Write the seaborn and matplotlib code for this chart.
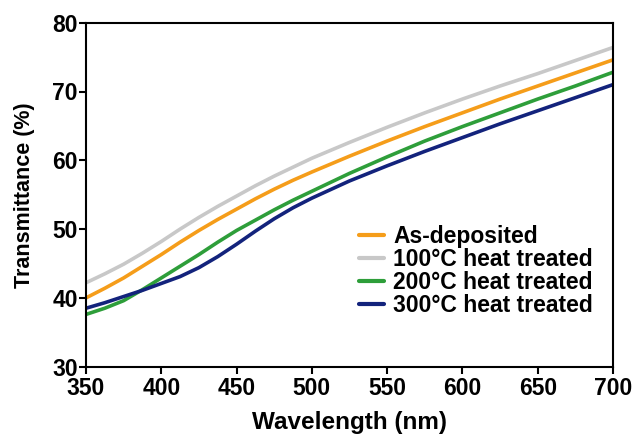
import numpy as np
import pandas as pd
import matplotlib
matplotlib.use("Agg")
import matplotlib.pyplot as plt
import seaborn as sns

wavelength = [350, 362.5, 375, 387.5, 400, 412.5, 425, 437.5, 450, 462.5, 475, 487.5, 500,
              525, 550, 575, 600, 625, 650, 675, 700]

as_deposited = [40.0, 41.4, 42.9, 44.6, 46.3, 48.1, 49.8, 51.4, 52.9, 54.4, 55.8, 57.1, 58.3,
                60.6, 62.8, 64.9, 66.9, 68.9, 70.8, 72.7, 74.6]
heat_100 = [42.2, 43.5, 44.9, 46.5, 48.2, 50.0, 51.7, 53.3, 54.8, 56.3, 57.7, 59.0, 60.3,
            62.6, 64.8, 66.9, 68.9, 70.8, 72.6, 74.5, 76.4]
heat_200 = [37.6, 38.5, 39.6, 41.2, 42.9, 44.6, 46.3, 48.1, 49.8, 51.3, 52.8, 54.2, 55.5,
            58.1, 60.5, 62.8, 64.9, 66.9, 68.9, 70.8, 72.8]
heat_300 = [38.5, 39.3, 40.2, 41.1, 42.1, 43.1, 44.4, 46.0, 47.8, 49.7, 51.5, 53.1, 54.5,
            57.0, 59.2, 61.3, 63.3, 65.3, 67.2, 69.1, 71.0]

labels = ["As-deposited", "100°C heat treated", "200°C heat treated", "300°C heat treated"]
colors = ["#F59D1A", "#C8C8C8", "#2E9E3A", "#13237C"]

df = pd.concat([
    pd.DataFrame({"Wavelength": wavelength, "T": vals, "Sample": lab})
    for vals, lab in zip([as_deposited, heat_100, heat_200, heat_300], labels)
])

sns.set_style("ticks")
plt.rcParams["font.family"] = ["Liberation Sans", "DejaVu Sans"]
plt.rcParams["font.weight"] = "bold"
plt.rcParams["text.color"] = "black"
plt.rcParams["axes.labelcolor"] = "black"
plt.rcParams["xtick.color"] = "black"
plt.rcParams["ytick.color"] = "black"

fig = plt.figure(figsize=(6.34, 4.34), dpi=100)
ax = fig.add_axes([86 / 634, 1 - 366.7 / 434, 527 / 634, 344 / 434])

sns.lineplot(data=df, x="Wavelength", y="T", hue="Sample", hue_order=labels,
             palette=colors, linewidth=2.6, ax=ax)

ax.set_xlim(350, 700)
ax.set_ylim(30, 80)
ax.set_xticks(range(350, 701, 50))
ax.set_yticks(range(30, 81, 10))
ax.tick_params(labelsize=16.5, width=1.5, length=5, direction="out", pad=1, colors="black")
ax.tick_params(axis="x", pad=2.5)
for lab in ax.get_xticklabels() + ax.get_yticklabels():
    lab.set_fontweight("bold")
for sp in ax.spines.values():
    sp.set_linewidth(1.5)
    sp.set_color("black")

ax.set_xlabel("Wavelength (nm)", fontsize=17.5, fontweight="bold", labelpad=8, color="black")
ax.set_ylabel("Transmittance (%)", fontsize=15.5, fontweight="bold", labelpad=12, color="black")

leg = ax.legend(loc="center left", bbox_to_anchor=(0.5, 0.278), frameon=False,
                fontsize=16.5, handlelength=1.1, handletextpad=0.4, labelspacing=0.0,
                borderaxespad=0)
for line in leg.get_lines():
    line.set_linewidth(3)
for t in leg.get_texts():
    t.set_fontweight("bold")
    t.set_color("black")

fig.savefig("out.png", dpi=100)
